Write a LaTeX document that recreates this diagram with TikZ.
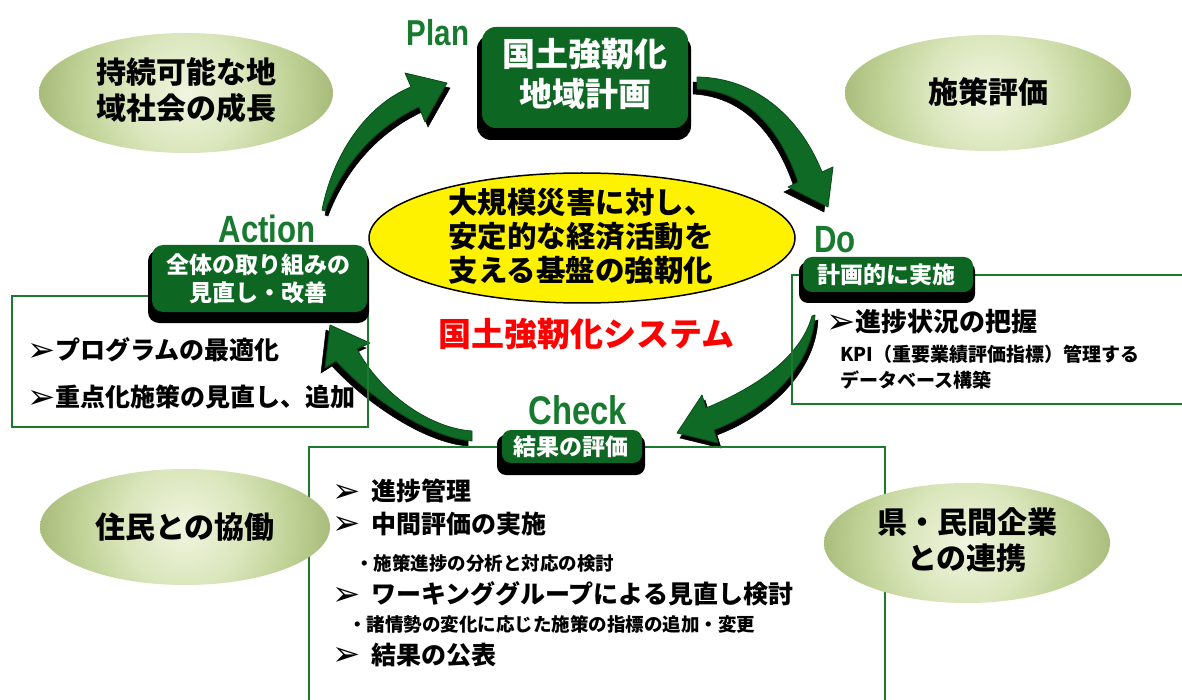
\documentclass[tikz,border=0pt]{standalone}
\usepackage{fontspec}
\setmainfont{Noto Sans CJK JP}
\newfontfamily\sym{DejaVu Sans}
\newfontfamily\lab{Liberation Sans}[FakeStretch=0.82]
\definecolor{boxgreen}{HTML}{0E6623}
\definecolor{labgreen}{HTML}{177A2E}
\definecolor{linegreen}{HTML}{1B7A30}
\definecolor{arrgreen}{HTML}{0E6A24}
\definecolor{arredge}{HTML}{0A4A18}
\definecolor{olA}{HTML}{F0F5E0}
\definecolor{olB}{HTML}{DAE6BC}
\definecolor{olC}{HTML}{BFD195}
\definecolor{olD}{HTML}{98AC68}
\definecolor{olE}{HTML}{768A44}
\definecolor{olF}{HTML}{5A6D2E}
\pgfdeclareradialshading{olivesh}{\pgfpoint{0bp}{0bp}}{color(0bp)=(olA); color(10bp)=(olB); color(18bp)=(olC); color(29bp)=(olD); color(40bp)=(olE); color(48bp)=(olF); color(72bp)=(olF)}
\newcommand{\fsz}[2]{\fontsize{#1pt}{#2pt}\selectfont}
\newcommand{\bul}{\raisebox{-0.06em}{\scalebox{1.35}{\sym ➢}}}
\newcommand{\oliveell}[4]{%
  \begin{scope}
    \clip (#1,#2) ellipse [x radius=#3, y radius=#4];
    \shade[shading=olivesh] (#1,#2) circle (150);
  \end{scope}}
\newcommand{\arrA}[1]{\filldraw[#1] (322,210) .. controls (332,158) and (364,106) .. (411,87) -- (405,73) -- (447,83) -- (425,122) -- (419,107) .. controls (374,128) and (342,166) .. (325,211) -- cycle;}
\newcommand{\arrB}[1]{\filldraw[#1] (697,77) .. controls (760,78) and (802,122) .. (822,172) -- (833,167) -- (828,207) -- (788,187) -- (798,182) .. controls (782,135) and (752,92) .. (697,89) -- cycle;}
\newcommand{\arrC}[1]{\filldraw[#1] (815,315) .. controls (812,370) and (762,412) .. (714,430) -- (718,443) -- (677,433) -- (702,395) -- (706,408) .. controls (750,390) and (800,360) .. (812,316) -- cycle;}
\newcommand{\arrD}[1]{\filldraw[#1] (472,441) .. controls (430,438) and (372,400) .. (336,361) -- (325,368) -- (330,325) -- (370,343) -- (357,349) .. controls (380,392) and (428,428) .. (472,431) -- cycle;}
\tikzset{
  boxtext/.style={text=white, align=center, inner sep=0pt},
  eltext/.style={text=black, align=center, inner sep=0pt},
  phase/.style={text=labgreen, inner sep=0pt},
  outline/.style={draw=linegreen, line width=1.6pt},
  shadowbox/.style={fill=black, rounded corners=#1},
  greenbox/.style={fill=boxgreen, rounded corners=#1},
  listtext/.style={anchor=west, inner sep=0pt, text=black},
  arrshadow/.style={fill=black, draw=black, line width=0.5pt},
  arrbody/.style={fill=arrgreen, draw=arredge, line width=0.8pt, line join=round},
}
\begin{document}
\begin{tikzpicture}[x=1pt,y=-1pt]
\useasboundingbox (0,0) rectangle (1182,700);
\fill[white] (0,0) rectangle (1182,700);

% arrows
\begin{scope}[shift={(3,5)}]\arrA{arrshadow}\end{scope}
\arrA{arrbody}
\begin{scope}[shift={(-4,5)}]\arrB{arrshadow}\end{scope}
\arrB{arrbody}
\begin{scope}[shift={(3,5)}]\arrC{arrshadow}\end{scope}
\arrC{arrbody}
\begin{scope}[shift={(-4,5)}]\arrD{arrshadow}\end{scope}
\arrD{arrbody}

% outline rectangles
\draw[outline] (792,275) rectangle (1192,404);
\draw[outline] (12,296) rectangle (368,427);
\draw[outline] (309,447) rectangle (885,712);

% olive ellipses
\oliveell{186}{93}{147}{60}
\oliveell{988}{93}{143}{58}
\oliveell{185}{527}{145}{58}
\oliveell{967}{543}{143}{60}
\node[eltext, font=\bfseries\fsz{30}{36}] (sustain) at (186,90) {持続可能な地\\域社会の成長};
\node[eltext, font=\bfseries\fsz{30}{36}] (policyeval) at (988,92) {施策評価};
\node[eltext, font=\bfseries\fsz{30}{36}] (residents) at (185,527) {住民との協働};
\node[eltext, font=\bfseries\fsz{30}{36}] (partners) at (967,540) {県・民間企業\\との連携};

% center ellipse
\draw[fill=yellow, draw=black, line width=1.5pt] (582,238) ellipse [x radius=213, y radius=65];
\node[eltext, font=\bfseries\fsz{29.5}{34}] (goal) at (581,236) {大規模災害に対し、\\安定的な経済活動を\\支える基盤の強靭化};
\node[text=red, inner sep=0pt, font=\bfseries\fsz{33}{40}] (system) at (586,334) {国土強靭化システム};

% phase labels
\node[phase, font=\lab\bfseries\fsz{36}{40}] (planlab) at (438,33) {Plan};
\node[phase, font=\lab\bfseries\fsz{38}{40}] (dolab) at (835,240) {Do};
\node[phase, font=\lab\bfseries\fsz{38}{40}] (actlab) at (267,229) {Action};
\node[phase, font=\lab\bfseries\fsz{40}{40}] (chklab) at (578,410) {Check};

% Plan box
\fill[shadowbox=14pt] (477,35) rectangle (691,140);
\fill[greenbox=14pt] (482,27) rectangle (688,128);
\node[boxtext, font=\bfseries\fsz{33}{40}] (plan) at (585,74) {国土強靭化\\地域計画};

% Do box
\fill[shadowbox=9pt] (799,262) rectangle (975,303);
\fill[greenbox=9pt] (803,257) rectangle (973,292);
\node[boxtext, font=\bfseries\fsz{23}{28}] (do) at (886,275) {計画的に実施};

% Check box
\fill[shadowbox=9pt] (497,435) rectangle (645,475);
\fill[greenbox=9pt] (502,430) rectangle (642,463);
\node[boxtext, font=\bfseries\fsz{23}{28}] (check) at (571,447) {結果の評価};

% Action box
\fill[shadowbox=11pt] (148,250) rectangle (369,323);
\fill[greenbox=11pt] (152,245) rectangle (367,312);
\node[boxtext, font=\bfseries\fsz{23}{28}] (action) at (258,279) {全体の取り組みの\\見直し・改善};

% Action list
\node[listtext, font=\bfseries\fsz{25}{30}] (a1) at (27,350) {\bul プログラムの最適化};
\node[listtext, font=\bfseries\fsz{25}{30}] (a2) at (27,397) {\bul 重点化施策の見直し、追加};

% Do list
\node[listtext, font=\bfseries\fsz{26}{30}] (d1) at (826,322) {\bul 進捗状況の把握};
\node[listtext, font=\bfseries\fsz{19}{26}] (d2) at (840,354) {KPI（重要業績評価指標）管理する};
\node[listtext, font=\bfseries\fsz{19}{26}] (d3) at (840,380) {データベース構築};

% Check list
\node[listtext, font=\bfseries\fsz{25}{30}] (c1) at (332,491) {\bul\hspace{11pt}進捗管理};
\node[listtext, font=\bfseries\fsz{25}{30}] (c2) at (332,524) {\bul\hspace{11pt}中間評価の実施};
\node[listtext, font=\bfseries\fsz{18.5}{24}] (c3) at (355,563) {・施策進捗の分析と対応の検討};
\node[listtext, font=\bfseries\fsz{25}{30}] (c4) at (332,594) {\bul\hspace{11pt}ワーキンググループによる見直し検討};
\node[listtext, font=\bfseries\fsz{18.5}{24}] (c5) at (348,624) {・諸情勢の変化に応じた施策の指標の追加・変更};
\node[listtext, font=\bfseries\fsz{25}{30}] (c6) at (332,655) {\bul\hspace{11pt}結果の公表};
\end{tikzpicture}
\end{document}
